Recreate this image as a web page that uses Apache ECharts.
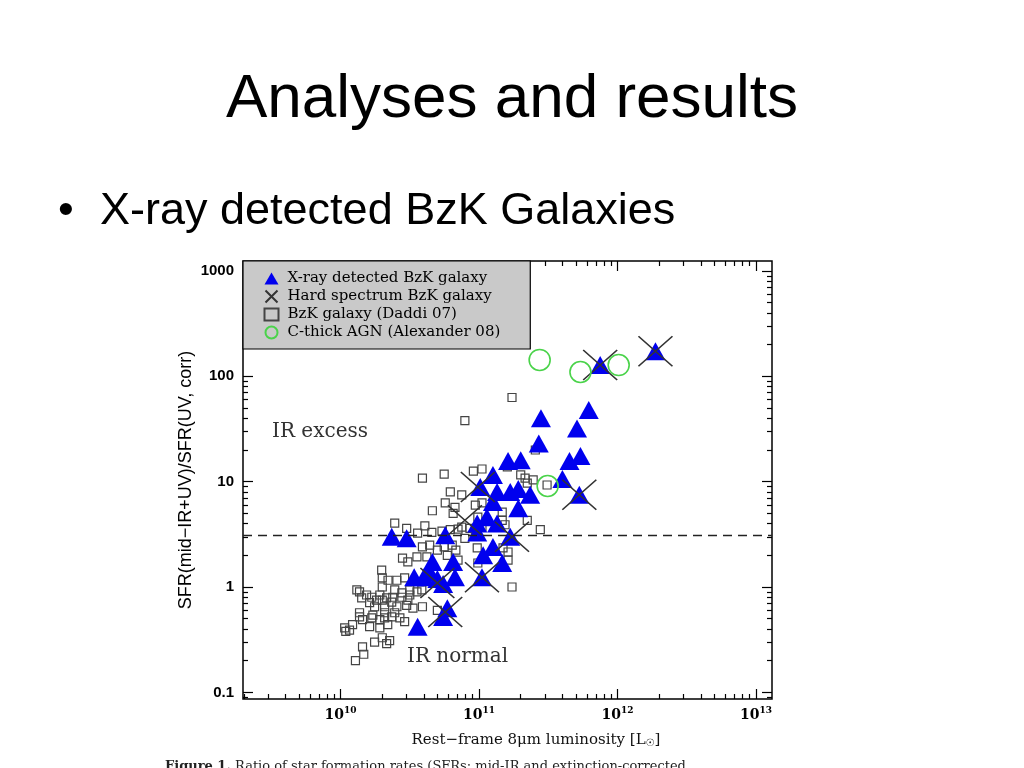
<!DOCTYPE html>
<html><head><meta charset="utf-8">
<script src="https://cdn.jsdelivr.net/npm/echarts@6/dist/echarts.min.js"></script>
<style>html,body{margin:0;padding:0;background:#fff;}#c{width:1024px;height:768px;}</style>
</head><body><div id="c"></div>
<script>
// ---- tick labels ----
const xTickValues = [1e10, 1e11, 1e12, 1e13];
const yTickValues = [0.1, 1, 10, 100, 1000];
const yTickLabels = ['0.1', '1', '10', '100', '1000'];

// ---- series: [8um luminosity (Lsun), SFR ratio] ----
const xrayPoints = [
  [1.88e12,173],[7.5e11,128],[6.2e11,48],[2.8e11,40],[5.1e11,32],[2.7e11,23],[5.4e11,17.5],[4.5e11,15.7],
  [2.0e11,16],[1.62e11,15.7],[4.0e11,10.6],[5.3e11,7.5],[1.26e11,11.6],[1.02e11,8.9],[1.35e11,8.0],[1.68e11,8.0],
  [1.92e11,8.5],[2.34e11,7.5],[1.26e11,6.4],[1.92e11,5.6],[1.14e11,4.6],[9.7e10,4.0],[1.35e11,4.0],[9.7e10,3.3],
  [1.68e11,3.0],[2.34e10,3.0],[3.0e10,2.9],[5.7e10,3.1],[1.26e11,2.4],[1.07e11,2.0],[1.47e11,1.69],[4.6e10,1.73],
  [6.5e10,1.73],[4.4e10,1.39],[3.4e10,1.24],[4.0e10,1.24],[5.0e10,1.19],[6.7e10,1.24],[5.5e10,1.07],[1.05e11,1.24],
  [5.9e10,0.63],[5.5e10,0.52],[3.6e10,0.42]
];
const hardPoints = [
  [1.88e12,173],[7.5e11,128],[5.3e11,7.5],[9.8e10,8.9],[1.73e11,3.0],[7.9e10,4.3],[1.05e11,1.24],[5.0e10,1.09],[5.7e10,0.58]
];
const bzkPoints = [
  [1.73e11,63],[7.9e10,38],[3.9e10,10.8],[5.6e10,11.8],[9.1e10,12.6],[1.05e11,13.2],[1.6e11,13.8],[2.55e11,20],
  [2.0e11,11.6],[2.15e11,10.8],[2.23e11,9.7],[2.46e11,10.4],[3.1e11,9.3],[6.2e10,8.0],[7.5e10,7.5],[5.7e10,6.3],
  [6.7e10,5.7],[6.5e10,5.0],[4.6e10,5.3],[9.4e10,6.0],[1.05e11,6.3],[9.8e10,4.6],[1.47e11,5.15],[2.23e11,4.3],
  [2.77e11,3.5],[2.46e10,4.05],[3.0e10,3.6],[3.6e10,3.25],[4.06e10,3.8],[4.56e10,3.3],[5.4e10,3.4],[6.2e10,3.5],
  [7.05e10,3.55],[7.5e10,3.7],[7.9e10,2.9],[9.4e10,3.1],[8.6e10,3.6],[1.05e11,3.7],[1.47e11,4.3],[1.54e11,3.9],
  [3.9e10,2.4],[4.4e10,2.5],[5.0e10,2.24],[5.6e10,2.4],[6.4e10,2.5],[6.8e10,2.24],[9.7e10,2.35],[1.49e11,2.35],
  [1.62e11,2.15],[1.62e11,1.8],[9.8e10,1.69],[2.8e10,1.88],[3.06e10,1.73],[3.56e10,1.93],[4.2e10,1.93],[5.9e10,2.0],
  [7.05e10,1.8],[1.98e10,1.45],[2.0e10,1.22],[2.2e10,1.16],[2.55e10,1.16],[2.9e10,1.22],[2.0e10,1.0],[2.46e10,0.94],
  [2.77e10,0.88],[3.16e10,0.94],[3.56e10,0.90],[3.86e10,0.94],[1.31e10,0.94],[1.37e10,0.90],[1.54e10,0.84],[1.68e10,0.80],
  [1.92e10,0.84],[2.15e10,0.79],[2.34e10,0.72],[1.82e10,0.75],[1.42e10,0.79],[1.62e10,0.71],[2.0e10,0.75],[2.38e10,0.80],
  [2.77e10,0.80],[3.16e10,0.84],[1.76e10,0.65],[2.08e10,0.65],[2.55e10,0.65],[3.06e10,0.75],[3.33e10,0.63],[3.9e10,0.65],
  [5.0e10,0.60],[3.0e10,0.67],[1.37e10,0.52],[1.44e10,0.49],[1.68e10,0.51],[1.92e10,0.49],[2.08e10,0.51],[2.34e10,0.52],
  [2.68e10,0.51],[2.9e10,0.47],[1.37e10,0.57],[1.71e10,0.54],[2.08e10,0.57],[2.46e10,0.57],[1.07e10,0.41],[1.16e10,0.39],
  [1.22e10,0.44],[1.62e10,0.42],[1.92e10,0.41],[2.19e10,0.44],[1.76e10,0.30],[2.0e10,0.33],[2.26e10,0.31],[1.44e10,0.27],
  [1.28e10,0.20],[1.47e10,0.23],[1.09e10,0.38],[2.15e10,0.29],[1.73e11,1.0]
];
const cthickPoints = [[2.74e11,143],[5.4e11,110],[1.02e12,128],[3.13e11,9.1]];
const dividerRatio = 3.1;

// ---- build ----
const L = Math.log10;
const toLog = arr => arr.map(p => [L(p[0]), L(p[1])]);
const X_MIN = 9.295, X_MAX = 13.116, Y_MIN = -1.063, Y_MAX = 3.095;
function minorTicks(lo, hi) {
  const out = [];
  for (let d = Math.floor(lo) - 1; d <= Math.ceil(hi); d++)
    for (let k = 2; k <= 9; k++) { const v = d + L(k); if (v > lo + 0.005 && v < hi - 0.005) out.push(v); }
  return out;
}
const xMajor = xTickValues.map(v => Math.round(L(v)));
const yMajor = yTickValues.map(v => Math.round(L(v)));
const tickStyle = {color:'#000', width:1.2};

function axis(kind, pos, values, len, labels) {
  const isX = kind === 'x';
  return {
    type:'value', position:pos,
    min: isX ? X_MIN : Y_MIN, max: isX ? X_MAX : Y_MAX,
    splitLine:{show:false},
    axisLine:{show:false, onZero:false},
    axisTick:{show:true, inside:true, length:len, lineStyle:tickStyle, customValues:values},
    axisLabel: labels || {show:false}
  };
}

const serif = '"DejaVu Serif", "Liberation Serif", serif';
const sans = '"Liberation Sans", Arial, sans-serif';
const xLabel = {
  show:true, customValues:xMajor, margin:7,
  formatter: v => '{b|10}{s|' + Math.round(v) + '}',
  rich:{ b:{fontSize:14, fontWeight:'bold', fontFamily:serif, color:'#000'},
         s:{fontSize:9, fontWeight:'bold', fontFamily:serif, color:'#000', padding:[0,0,10,0]} }
};
const yLabel = {
  show:true, customValues:yMajor, margin:9,
  formatter: v => yTickLabels[yMajor.indexOf(Math.round(v))],
  fontSize:15, fontWeight:'bold', fontFamily:sans, color:'#000'
};

const minorX = minorTicks(X_MIN, X_MAX), minorY = minorTicks(Y_MIN, Y_MAX);
const yMain = axis('y','left', yMajor, 10, yLabel);
yMain.name = 'SFR(mid\u2212IR+UV)/SFR(UV, corr)';
yMain.nameLocation = 'middle';
yMain.nameGap = 48;
yMain.nameMoveOverlap = false;
yMain.nameTextStyle = {fontSize:18, fontFamily:sans, color:'#000'};

const option = {
  animation:false,
  backgroundColor:'#fff',
  grid:{left:243, right:252, top:261, bottom:69, show:true, borderColor:'#000', borderWidth:1.5, backgroundColor:'transparent'},
  xAxis:[
    axis('x','bottom', xMajor, 10, xLabel),
    axis('x','bottom', minorX, 5),
    axis('x','top', xMajor, 10),
    axis('x','top', minorX, 5)
  ],
  yAxis:[
    yMain,
    axis('y','left', minorY, 5),
    axis('y','right', yMajor, 10),
    axis('y','right', minorY, 5)
  ],
  legend:{
    left:243, top:261, orient:'vertical', itemGap:1, itemWidth:14, itemHeight:12,
    padding:[9,30,8,20],
    backgroundColor:'#c9c9c9', borderColor:'#000', borderWidth:1.2,
    data:['X-ray detected BzK galaxy','Hard spectrum BzK galaxy','BzK galaxy (Daddi 07)','C-thick AGN (Alexander 08)'],
    textStyle:{fontSize:15, lineHeight:17, fontFamily:serif, color:'#000', padding:[0,0,0,4]}
  },
  series:[
    {name:'BzK galaxy (Daddi 07)', type:'scatter', z:2, symbol:'rect', symbolSize:8,
     itemStyle:{color:'rgba(255,255,255,0)', borderColor:'#444', borderWidth:1.2, opacity:1},
     data:toLog(bzkPoints),
     markLine:{silent:true, symbol:['none','none'], label:{show:false},
       lineStyle:{type:[9,6], color:'#222', width:1.3},
       data:[{yAxis:L(dividerRatio)}]}},
    {name:'X-ray detected BzK galaxy', type:'scatter', z:3, symbol:'triangle', symbolSize:[20,18],
     itemStyle:{color:'#0000ee', opacity:1}, data:toLog(xrayPoints)},
    {name:'Hard spectrum BzK galaxy', type:'scatter', z:4, symbol:'path://M0,0L10,10M10,0L0,10', symbolSize:[34,30],
     itemStyle:{color:'none', borderColor:'#333', borderWidth:1.5, opacity:1}, data:toLog(hardPoints)},
    {name:'C-thick AGN (Alexander 08)', type:'scatter', z:5, symbol:'circle', symbolSize:21,
     itemStyle:{color:'rgba(255,255,255,0)', borderColor:'#4ad34a', borderWidth:1.6, opacity:1}, data:toLog(cthickPoints)}
  ],
  graphic:[
    {type:'text', x:512, y:100, style:{text:'Analyses and results', fontSize:62, fontFamily:sans, fill:'#000', align:'center', verticalAlign:'middle'}},
    {type:'text', x:58, y:212, style:{text:'\u2022', fontSize:45, fontFamily:sans, fill:'#000', align:'left', verticalAlign:'middle'}},
    {type:'text', x:100, y:212, style:{text:'X-ray detected BzK Galaxies', fontSize:45, fontFamily:sans, fill:'#000', align:'left', verticalAlign:'middle'}},
    {type:'text', x:272, y:432, style:{text:'IR excess', fontSize:20, fontFamily:serif, fill:'#333', align:'left', verticalAlign:'middle'}},
    {type:'text', x:407, y:657, style:{text:'IR normal', fontSize:20, fontFamily:serif, fill:'#333', align:'left', verticalAlign:'middle'}},
    {type:'text', x:536, y:740, style:{text:'Rest\u2212frame 8\u03bcm luminosity [L{sub|\u2609}]', fontSize:15, fontFamily:serif, fill:'#111', align:'center', verticalAlign:'middle',
      rich:{sub:{fontSize:10, fontFamily:'"DejaVu Sans", sans-serif', fill:'#111', padding:[6,0,0,0]}}}},
    {type:'text', x:165, y:767, style:{text:'{b|Figure 1.} Ratio of star formation rates (SFRs: mid-IR and extinction-corrected', fontSize:13, fontFamily:serif, fill:'#222', align:'left', verticalAlign:'middle',
      rich:{b:{fontSize:13, fontWeight:'bold', fontFamily:serif, fill:'#222'}}}}
  ]
};
const chart = echarts.init(document.getElementById('c'));
chart.setOption(option);
</script>
</body></html>
